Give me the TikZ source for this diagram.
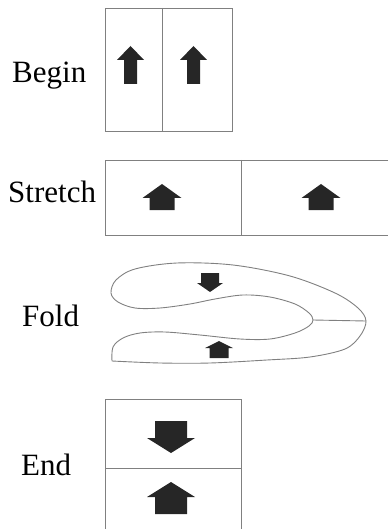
\documentclass[tikz,border=0pt]{standalone}
\usepackage{fontspec}
\setmainfont{Liberation Serif}
% block arrow: x centre, y of shaft end, y of head base, y of tip,
% shaft half-width, head half-width
\newcommand\blockarrow[6]{%
  \fill[blockfill] ({#1-#5},#2) -- ({#1-#5},#3) -- ({#1-#6},#3) -- (#1,#4)
    -- ({#1+#6},#3) -- ({#1+#5},#3) -- ({#1+#5},#2) -- cycle;}
\begin{document}
\begin{tikzpicture}[x=1pt,y=-1pt,
  frame/.style={draw=black!50,line width=0.9pt},
  stagelabel/.style={anchor=base west,inner sep=0pt,
    font=\fontsize{31}{37}\selectfont},
  blockfill/.style={fill=black!85}]
\useasboundingbox (0,0) rectangle (388,529);

% Begin: square split in two halves
\node[stagelabel] (begin) at (12,83) {Begin};
\draw[frame] (105,8) rectangle (232,131);
\draw[frame] (162,8) -- (162,131);
\blockarrow{130.5}{84}{60}{46}{6.5}{13.5}
\blockarrow{193.5}{84}{60}{46}{6.5}{13.5}

% Stretch: long flat strip
\node[stagelabel] (stretch) at (8,203) {Stretch};
\draw[frame] (388,160) -- (105,160) -- (105,235) -- (388,235);
\draw[frame] (241,160) -- (241,235);
\blockarrow{162}{210}{198}{184}{12.5}{19.5}
\blockarrow{321}{210}{198}{184}{12.5}{19.5}

% Fold: strip bent back on itself
\node[stagelabel] (fold) at (22,326) {Fold};
\draw[frame] plot[smooth,tension=0.55] coordinates {
  (112,361) (113,347) (123,338) (140,333) (165,332) (200,335) (240,339)
  (270,339) (295,333) (309,326) (313,320) (309,313) (295,304) (270,297)
  (243,295) (215,299) (190,304) (160,308) (135,308) (118,302) (111,293)
  (116,280) (135,269) (177,263) (233,265) (290,276) (335,293) (358,308)
  (366,321) (360,336) (345,349) (310,357) (267,360) (210,363) (160,363)
  (112,361)};
\draw[frame] (313,320) -- (366,321);
\blockarrow{210}{273}{283}{292}{9}{13}
\blockarrow{219}{358}{348}{341}{9.5}{14}

% End: the two halves stacked
\node[stagelabel] (end) at (21,475) {End};
\draw[frame] (105,529) -- (105,399) -- (241,399) -- (241,529);
\draw[frame] (105,468) -- (241,468);
\blockarrow{171}{421}{438}{453}{16}{24}
\blockarrow{171}{514}{497}{482}{16}{24}
\end{tikzpicture}
\end{document}
